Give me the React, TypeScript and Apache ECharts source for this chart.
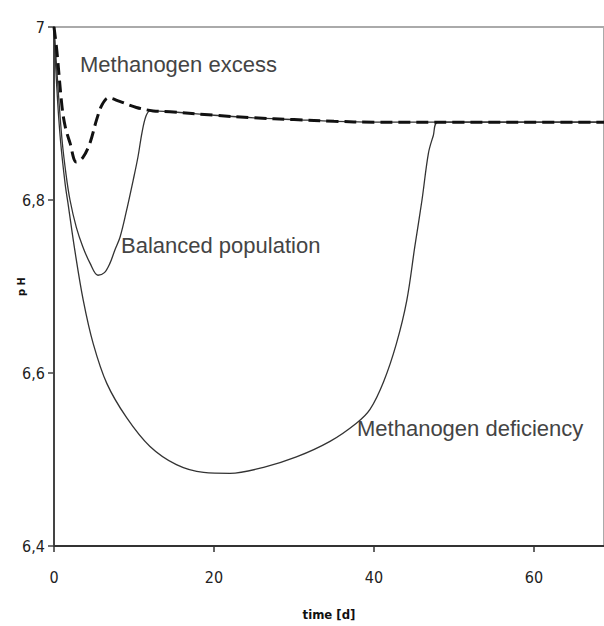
import React, { useEffect, useRef } from "react";
import * as echarts from "echarts";

// ---- data ----
const xTicks = [0, 20, 40, 60];
const yTickLabels = ["6,4", "6,6", "6,8", "7"];

const tExcess = [0, 0.35, 1.0, 1.4, 2.0, 2.8, 3.6, 4.5, 5.3, 6.0, 6.8, 8.2, 10.3, 12.4, 14.5, 20, 25, 30, 35, 40, 50, 60, 68.75];
const phExcess = [7.0, 6.973, 6.908, 6.885, 6.866, 6.844, 6.849, 6.866, 6.892, 6.91, 6.918, 6.914, 6.907, 6.903, 6.902, 6.898, 6.895, 6.893, 6.891, 6.89, 6.89, 6.89, 6.89];

const tBalanced = [0, 0.5, 1.0, 1.5, 2.0, 2.8, 3.6, 4.5, 5.5, 6.3, 7.0, 7.6, 8.25, 9.0, 9.9, 10.5, 11.0, 11.5, 12.0, 14.5, 20, 25, 30, 35, 40, 50, 60, 68.75];
const phBalanced = [7.0, 6.93, 6.87, 6.83, 6.8, 6.768, 6.746, 6.727, 6.713, 6.716, 6.727, 6.742, 6.757, 6.785, 6.823, 6.85, 6.878, 6.897, 6.903, 6.902, 6.898, 6.895, 6.893, 6.891, 6.89, 6.89, 6.89, 6.89];

const tDeficiency = [0, 0.35, 0.8, 1.4, 1.8, 2.6, 3.66, 4.9, 6.6, 9.1, 12, 15.3, 18.7, 22, 26.2, 30.3, 34.5, 37.8, 39.5, 41.2, 42.8, 44.1, 45.1, 46.0, 46.8, 47.4, 48.0, 55, 60, 68.75];
const phDeficiency = [7.0, 6.93, 6.87, 6.818, 6.793, 6.742, 6.684, 6.634, 6.588, 6.548, 6.515, 6.494, 6.485, 6.484, 6.491, 6.503, 6.521, 6.542, 6.558, 6.59, 6.634, 6.684, 6.746, 6.8, 6.854, 6.874, 6.89, 6.89, 6.89, 6.89];

const labelExcess = "Methanogen excess";
const labelBalanced = "Balanced population";
const labelDeficiency = "Methanogen deficiency";

const pairs = (t: number[], v: number[]) => t.map((x, i) => [x, v[i]]);

const NARROW = "'DejaVu Sans Condensed', 'DejaVu Sans', sans-serif";
const SANS = "'Liberation Sans', Arial, sans-serif";

export default function App() {
  const ref = useRef<HTMLDivElement>(null);
  useEffect(() => {
    if (!ref.current) return;
    const chart = echarts.init(ref.current, undefined, { renderer: "svg" });
    chart.setOption({
      animation: false,
      backgroundColor: "#ffffff",
      grid: {
        left: 54,
        right: 0,
        top: 27,
        bottom: 80,
        containLabel: false,
        outerBoundsMode: "none",
        show: true,
        borderColor: "#aaaaaa",
        borderWidth: 2,
      },
      xAxis: {
        type: "value",
        min: 0,
        max: 68.75,
        interval: 20,
        name: "time [d]",
        nameLocation: "middle",
        nameGap: 62,
        nameTextStyle: { fontFamily: NARROW, fontSize: 13, fontWeight: "bold", color: "#111" },
        axisLine: { show: true, lineStyle: { color: "#333", width: 2 } },
        axisTick: { show: true, length: 6, customValues: xTicks, lineStyle: { color: "#333", width: 1.5 } },
        axisLabel: {
          customValues: xTicks,
          margin: 23,
          fontFamily: NARROW,
          fontSize: 16,
          color: "#222",
          formatter: (v: number) => String(v),
        },
        splitLine: { show: false },
      },
      yAxis: {
        type: "value",
        min: 6.4,
        max: 7,
        interval: 0.2,
        name: "p H",
        nameLocation: "middle",
        nameRotate: 90,
        nameGap: 27,
        nameMoveOverlap: false,
        nameTextStyle: { fontFamily: NARROW, fontSize: 11, fontWeight: "bold", color: "#111" },
        axisLine: { show: true, lineStyle: { color: "#444", width: 2 } },
        axisTick: { show: true, length: 6, lineStyle: { color: "#444", width: 1.5 } },
        axisLabel: {
          margin: 9,
          fontFamily: NARROW,
          fontSize: 16,
          color: "#222",
          formatter: (v: number) => {
            const idx = Math.round((v - 6.4) / 0.2);
            return yTickLabels[idx] ?? "";
          },
        },
        splitLine: { show: false },
      },
      series: [
        {
          type: "line",
          name: labelDeficiency,
          data: pairs(tDeficiency, phDeficiency),
          showSymbol: false,
          smooth: 0.35,
          lineStyle: { color: "#333", width: 1.3 },
          z: 2,
        },
        {
          type: "line",
          name: labelBalanced,
          data: pairs(tBalanced, phBalanced),
          showSymbol: false,
          smooth: 0.35,
          lineStyle: { color: "#333", width: 1.3 },
          z: 2,
        },
        {
          type: "line",
          name: labelExcess,
          data: pairs(tExcess, phExcess),
          showSymbol: false,
          smooth: 0.35,
          lineStyle: { color: "#111", width: 3, type: [12, 6] },
          z: 3,
        },
      ],
      graphic: [
        {
          type: "text",
          x: 80,
          y: 64,
          style: { text: labelExcess, font: `22px ${SANS}`, fill: "#444", verticalAlign: "middle" },
        },
        {
          type: "text",
          x: 121,
          y: 245,
          style: { text: labelBalanced, font: `22px ${SANS}`, fill: "#444", verticalAlign: "middle" },
        },
        {
          type: "text",
          x: 357,
          y: 428,
          style: { text: labelDeficiency, font: `22px ${SANS}`, fill: "#444", verticalAlign: "middle" },
        },
      ],
    });
    return () => chart.dispose();
  }, []);
  return (
    <div
      ref={ref}
      style={{ position: "fixed", left: 0, top: 0, width: 604, height: 626, background: "#fff" }}
    />
  );
}
